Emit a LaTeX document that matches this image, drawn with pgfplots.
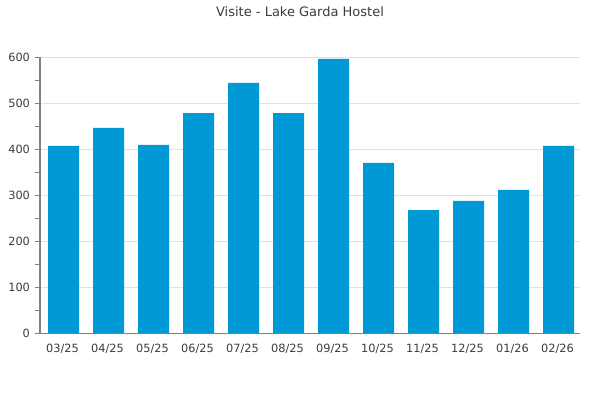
\documentclass[border=0pt]{standalone}
\usepackage{fontspec}
\setmainfont{DejaVu Sans}
\usepackage{pgfplots}
\pgfplotsset{compat=1.18}
\definecolor{barblue}{RGB}{0,153,214}
\definecolor{axgrey}{RGB}{128,128,128}
\definecolor{gridgrey}{RGB}{224,224,224}
\definecolor{txt}{RGB}{60,60,60}
\begin{document}
\begin{tikzpicture}[x=1pt,y=1pt]
\path[use as bounding box] (0,0) rectangle (450,300);
\node[text=txt, font=\fontsize{9.75}{11}\selectfont] at (225,291) {Visite - Lake Garda Hostel};
\begin{axis}[
  at={(30pt,50.25pt)}, anchor=south west,
  scale only axis, width=405pt, height=207pt,
  xmin=-0.5, xmax=11.5, ymin=0, ymax=600,
  axis x line*=bottom, axis y line*=left,
  axis line style={axgrey, line width=0.75pt},
  xtick=data,
  xticklabels={03/25,04/25,05/25,06/25,07/25,08/25,09/25,10/25,11/25,12/25,01/26,02/26},
  xtick style={draw=none},
  ytick={0,100,...,600},
  minor ytick={50,150,...,550},
  ytick style={axgrey, line width=0.75pt},
  minor tick style={axgrey, line width=0.75pt},
  tick align=outside,
  major tick length=4pt, minor tick length=4pt,
  ymajorgrids, major grid style={gridgrey, line width=0.6pt},
  tick label style={text=txt, font=\fontsize{8.5}{10}\selectfont},
  /pgf/number format/assume math mode=true,
  xticklabel style={yshift=-1pt},
  ybar, bar width=23.25pt, bar shift=0.75pt,
  clip=false,
]
\addplot[fill=barblue, draw=none] coordinates {
(0,407) (1,446) (2,409) (3,478) (4,544) (5,478) (6,596) (7,370) (8,267) (9,287) (10,311) (11,407)
};
\end{axis}
\end{tikzpicture}
\end{document}
